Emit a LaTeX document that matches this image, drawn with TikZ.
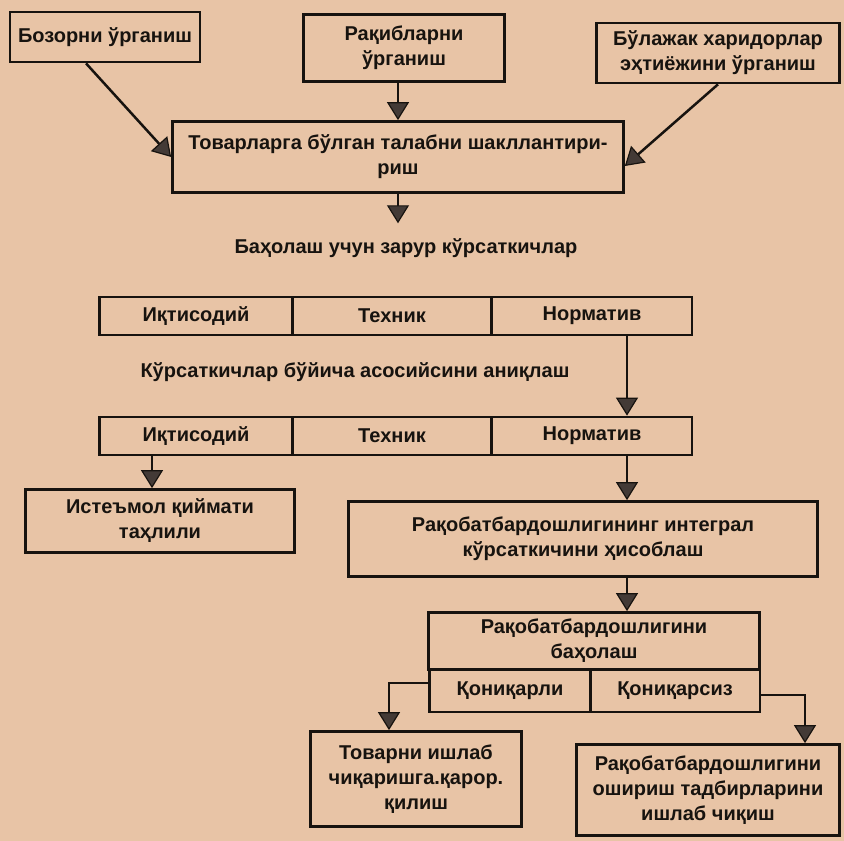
\documentclass[tikz,border=0pt]{standalone}
\usepackage{fontspec}
\setmainfont{Liberation Sans}
\usepackage{tikz}
\usetikzlibrary{arrows.meta,calc}
\definecolor{paper}{HTML}{E8C4A6}
\definecolor{ink}{HTML}{17130F}
\definecolor{headgray}{HTML}{433A36}
\tikzset{
  every node/.style={text=ink},
  stage/.style={draw=ink, line width=2.7pt, align=center, inner sep=3pt,
    font=\fontsize{20}{25}\selectfont\bfseries},
  cell/.style={stage, minimum height=38pt},
  caption/.style={font=\fontsize{20}{25}\selectfont\bfseries, inner sep=2pt},
  flow/.style={-{Triangle[length=18pt,width=22pt,fill=headgray,line width=1.2pt]},
    draw=ink, line width=2.5pt}
}
\begin{document}
\begin{tikzpicture}[x=1pt,y=-1pt]
\fill[paper] (0,0) rectangle (844,841);
\useasboundingbox (0,0) rectangle (844,841);

% ---------------------------------------------------------------------------
% Top: three studies feeding the demand stage.
% ---------------------------------------------------------------------------
\node[stage, minimum width=190pt, minimum height=50pt] (market) at (105,37)
  {Бозорни ўрганиш};
\node[stage, minimum width=201pt, minimum height=67pt] (rivals) at (404,48)
  {Рақибларни\\ўрганиш};
\node[stage, minimum width=243pt, minimum height=60pt] (buyers) at (718,53)
  {Бўлажак харидорлар\\эҳтиёжини ўрганиш};
\node[stage, minimum width=451pt, minimum height=71pt] (demand) at (398,157)
  {Товарларга бўлган талабни шакллантири-\\риш};

\draw[flow] ([xshift=-19pt]market.south) -- (demand.west);
\draw[flow] (rivals.south -| demand.north) -- (demand.north);
\draw[flow] (buyers.south) -- ([yshift=-9pt]demand.east);

\node[caption] (needed) at (406,248) {Баҳолаш учун зарур кўрсаткичлар};
\draw[flow, shorten >=13pt] (demand.south) -- (demand.south |- needed.north);

% ---------------------------------------------------------------------------
% Indicator rows.
% ---------------------------------------------------------------------------
\coordinate (spine) at (627,0);
\coordinate (leftdrop) at (152,0);

\node[cell, minimum width=193pt] (econA) at (196,316) {Иқтисодий};
\node[cell, minimum width=199pt] (techA) at (392,316) {Техник};
\node[cell, minimum width=200pt] (normA) at (592,316) {Норматив};

\node[caption] (basic) at (355,372) {Кўрсаткичлар бўйича асосийсини аниқлаш};

\node[cell, minimum width=193pt] (econB) at (196,436) {Иқтисодий};
\node[cell, minimum width=199pt] (techB) at (392,436) {Техник};
\node[cell, minimum width=200pt] (normB) at (592,436) {Норматив};

\draw[flow] (normA.south -| spine) -- (normB.north -| spine);

% ---------------------------------------------------------------------------
% Analysis and integral indicator.
% ---------------------------------------------------------------------------
\node[stage, minimum width=269pt, minimum height=63pt] (usevalue) at (160,521)
  {Истеъмол қиймати\\таҳлили};
\node[stage, minimum width=469pt, minimum height=75pt] (integral) at (583,539)
  {Рақобатбардошлигининг интеграл\\кўрсаткичини ҳисоблаш};

\draw[flow] (econB.south -| leftdrop) -- (usevalue.north -| leftdrop);
\draw[flow] (normB.south -| spine) -- (integral.north -| spine);

% ---------------------------------------------------------------------------
% Assessment and the two outcomes.
% ---------------------------------------------------------------------------
\coordinate (yesdrop) at (389,0);
\coordinate (nodrop) at (805,0);

\node[stage, minimum width=331pt, minimum height=57pt] (assess) at (594,641)
  {Рақобатбардошлигини\\баҳолаш};
\node[cell, minimum width=161pt, minimum height=42pt] (yes) at (510,691) {Қониқарли};
\node[cell, minimum width=170pt, minimum height=42pt] (no) at (675,691) {Қониқарсиз};

\draw[flow] (integral.south -| spine) -- (assess.north -| spine);

\node[stage, minimum width=211pt, minimum height=95pt] (accept) at (416,779)
  {Товарни ишлаб\\чиқаришга.қарор.\\қилиш};
\node[stage, minimum width=263pt, minimum height=91pt] (raise) at (708,790)
  {Рақобатбардошлигини\\ошириш тадбирларини\\ишлаб чиқиш};

\draw[flow] ([yshift=8pt]yes.west) -| (yesdrop |- accept.north);
\draw[flow] ([yshift=-4pt]no.east) -| (nodrop |- raise.north);

\end{tikzpicture}
\end{document}
